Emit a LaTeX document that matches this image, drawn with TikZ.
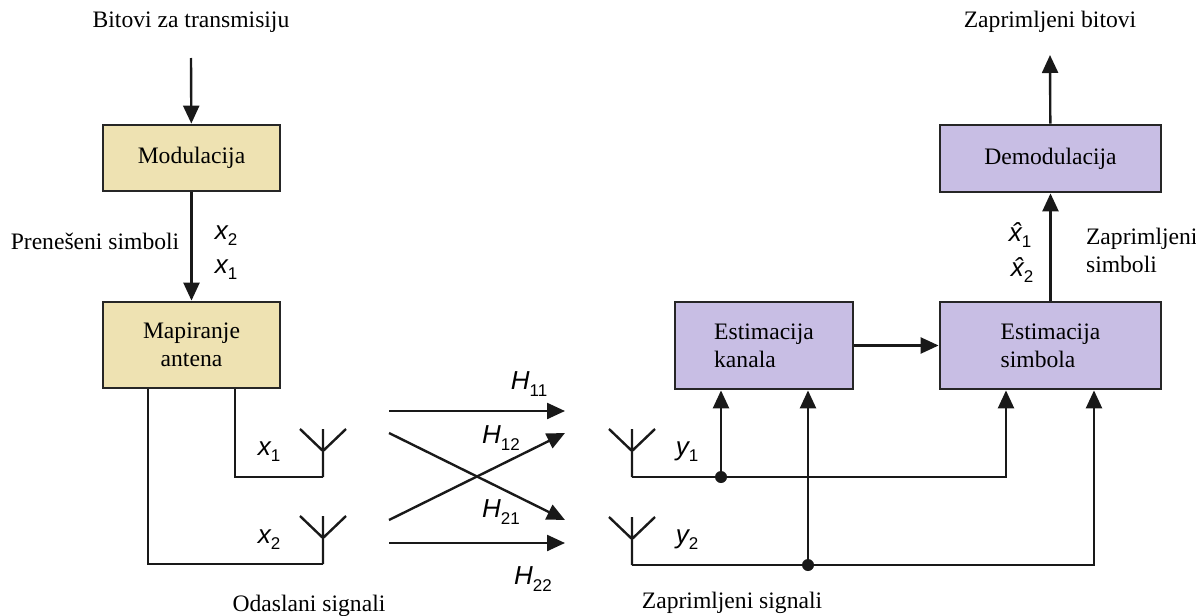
\documentclass[tikz,border=0pt]{standalone}
\usepackage{fontspec}
\usepackage{tikz}
\usepackage{xcolor}
\setmainfont{Liberation Serif}
\newfontfamily\arialf{Liberation Sans}
\usetikzlibrary{arrows.meta}
\definecolor{tanf}{RGB}{238,226,178}
\definecolor{lilaf}{RGB}{200,190,228}
\newcommand{\sym}[2]{{\arialf\fontsize{13}{15}\selectfont\itshape #1\raisebox{-0.45ex}{\upshape\fontsize{8.5}{10}\selectfont #2}}}

\begin{document}
\begin{tikzpicture}[x=0.5pt,y=-0.5pt]%
  \tikzstyle{every node}=[font=\fontsize{11.8}{14}\selectfont]
  \tikzstyle{boxt}=[rectangle,draw=black!85,line width=1.4pt,fill=tanf,align=center,inner sep=0]
  \tikzstyle{boxl}=[rectangle,draw=black!85,line width=1.4pt,fill=lilaf,align=left,inner sep=0]
  \tikzstyle{arr}=[line width=1.2pt,draw=black!90,-{Triangle[length=9pt,width=8pt]}]
  \tikzstyle{wire}=[line width=1.2pt,draw=black!90]
  \useasboundingbox (0,0) rectangle (1196,616);
  \node(bits) at (191,22) {Bitovi za transmisiju};
  \coordinate (in) at (191,58);
  \node(mod)[boxt,minimum width=88.5pt,minimum height=33pt] at (191.5,158) {Modulacija};
  \node(map)[boxt,minimum width=88.5pt,minimum height=43pt] at (191.5,345) {Mapiranje\\antena};
  \node(pren) at (95,241) {Prenešeni simboli};
  \node at (226,236) {\sym{x}{2}};
  \node at (226,270) {\sym{x}{1}};
  \draw[arr] (in) -- (mod);
  \draw[arr] (mod) -- (map);
  \coordinate (ta1) at (323,477);
  \coordinate (ta2) at (323,564);
  \coordinate (ra1) at (632,477);
  \coordinate (ra2) at (632,565);
  \draw[wire] ([xshift=21.75pt]map.south) |- (ta1);
  \draw[wire] ([xshift=-21.75pt]map.south) |- (ta2);
  \foreach \a in {ta1,ta2,ra1,ra2}
    \draw[wire] (\a) -- ++(0,-48) (\a) ++(0,-26) -- ++(-23,-22) (\a) ++(0,-26) -- ++(23,-22);
  \node at (269,452) {\sym{x}{1}};
  \node at (269,540) {\sym{x}{2}};
  \node at (687,452) {\sym{y}{1}};
  \node at (687,540) {\sym{y}{2}};
  % kanal
  \foreach \n/\y in {a/411,b/433,c/520,d/543}
    {\coordinate (L\n) at (389,\y); \coordinate (R\n) at (565,\y);}
  \draw[arr] (La) -- (Ra);
  \draw[arr] (Lb) -- (Rc);
  \draw[arr] (Lc) -- (Rb);
  \draw[arr] (Ld) -- (Rd);
  \node at (529,384) {\sym{H}{11}};
  \node at (501,438) {\sym{H}{12}};
  \node at (501,512) {\sym{H}{21}};
  \node at (533,579) {\sym{H}{22}};
  \node(odas) at (309,606) {Odaslani signali};
  \node(zaps) at (732,603) {Zaprimljeni signali};
  % prijemnik
  \node(kan)[boxl,minimum width=89pt,minimum height=43.5pt] at (764,345.5) {Estimacija\\kanala};
  \node(sym)[boxl,minimum width=110.5pt,minimum height=43.5pt] at (1050.5,345.5) {Estimacija\\simbola};
  \node(dem)[boxl,minimum width=110.5pt,minimum height=33.5pt] at (1050.5,158.5) {Demodulacija};
  \node(zapb) at (1050,22) {Zaprimljeni bitovi};
  \coordinate (out) at (1050,55);
  \coordinate (d1) at ([xshift=-21.5pt]kan.south |- ra1);
  \coordinate (d2) at ([xshift=22pt]kan.south |- ra2);
  \draw[arr] (ra1) -| ([xshift=-22.25pt]sym.south);
  \draw[arr] (ra2) -| ([xshift=21.75pt]sym.south);
  \draw[arr] (d1) -- ([xshift=-21.5pt]kan.south);
  \draw[arr] (d2) -- ([xshift=22pt]kan.south);
  \fill[black!90] (d1) circle (3pt) (d2) circle (3pt);
  \draw[arr] (kan) -- (sym);
  \draw[arr] (sym) -- (dem);
  \draw[arr] (dem) -- (out);
  \node at (1020,235) {\sym{\^x}{1}};
  \node at (1022,270) {\sym{\^x}{2}};
  \node(zapsim)[align=left,anchor=west] at (1079,250) {Zaprimljeni\\simboli};
\end{tikzpicture}
\end{document}
